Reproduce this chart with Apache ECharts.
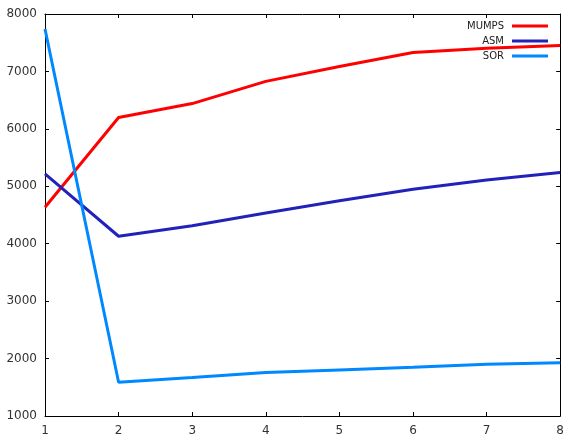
<!DOCTYPE html>
<html>
<head>
<meta charset="utf-8">
<script src="https://cdn.jsdelivr.net/npm/echarts@6/dist/echarts.min.js"></script>
<style>html,body{margin:0;padding:0;background:#fff}#c{width:567px;height:437px}</style>
</head>
<body>
<div id="c"></div>
<script>
var xValues = [1, 2, 3, 4, 5, 6, 7, 8];
var mumps = [4635, 6198, 6440, 6827, 7087, 7329, 7405, 7451];
var asm = [5215, 4130, 4314, 4534, 4747, 4950, 5111, 5239];
var sor = [7740, 1588, 1669, 1756, 1801, 1847, 1899, 1929];
var seriesNames = ['MUMPS', 'ASM', 'SOR'];
var seriesColors = ['#ff0000', '#2222bb', '#0088ff'];

function pairs(vals) { return xValues.map(function (x, i) { return [x, vals[i]]; }); }

var font = 'DejaVu Sans';
var chart = echarts.init(document.getElementById('c'), null, { renderer: 'canvas' });
var tickStyle = { show: true, inside: true, length: 4, lineStyle: { color: '#000', width: 1 } };
chart.setOption({
  animation: false,
  grid: { left: 45, right: 6, top: 14, bottom: 19, containLabel: false },
  legend: {
    orient: 'vertical', right: 14, top: 16, align: 'right',
    itemWidth: 36, itemHeight: 3, itemGap: 5, icon: 'rect',
    textStyle: { fontFamily: font, fontSize: 10, color: '#222', padding: [0, 3, 0, 0] },
    data: seriesNames
  },
  xAxis: [{
    type: 'value', min: 1, max: 8, interval: 1, position: 'bottom',
    axisLine: { show: true, lineStyle: { color: '#000', width: 1 } },
    axisTick: tickStyle, splitLine: { show: false },
    axisLabel: { margin: 9, fontFamily: font, fontSize: 12, color: '#333', formatter: function (v) { return String(v); } }
  }, {
    type: 'value', min: 1, max: 8, interval: 1, position: 'top',
    axisLine: { show: true, lineStyle: { color: '#000', width: 1 } },
    axisTick: tickStyle, splitLine: { show: false }, axisLabel: { show: false }
  }],
  yAxis: [{
    type: 'value', min: 1000, max: 8000, interval: 1000, position: 'left',
    axisLine: { show: true, lineStyle: { color: '#000', width: 1 } },
    axisTick: tickStyle, splitLine: { show: false },
    axisLabel: { margin: 8, fontFamily: font, fontSize: 12, color: '#333', formatter: function (v) { return String(v); } }
  }, {
    type: 'value', min: 1000, max: 8000, interval: 1000, position: 'right',
    axisLine: { show: true, lineStyle: { color: '#000', width: 1 } },
    axisTick: tickStyle, splitLine: { show: false }, axisLabel: { show: false }
  }],
  series: [mumps, asm, sor].map(function (vals, i) {
    return {
      name: seriesNames[i], type: 'line', data: pairs(vals),
      showSymbol: false, symbol: 'none',
      lineStyle: { color: seriesColors[i], width: 3 },
      itemStyle: { color: seriesColors[i] }
    };
  })
});
</script>
</body>
</html>
